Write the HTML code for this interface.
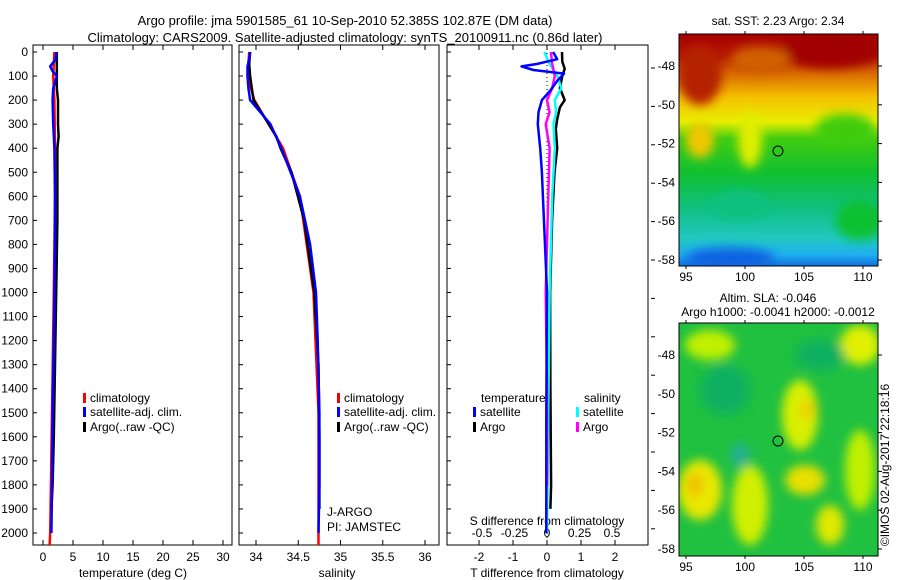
<!DOCTYPE html>
<html><head><meta charset="utf-8"><style>
body{margin:0;background:#fff;}
svg{display:block;font-family:"Liberation Sans",sans-serif;}
</style></head><body>
<svg id="c" width="900" height="580" viewBox="0 0 900 580">
<defs>
<linearGradient id="sstg" x1="0" y1="0" x2="0" y2="1">
<stop offset="0" stop-color="#a80000"/><stop offset="0.1" stop-color="#b31a00"/>
<stop offset="0.17" stop-color="#d96a00"/><stop offset="0.27" stop-color="#f5c000"/>
<stop offset="0.38" stop-color="#e8ee00"/><stop offset="0.45" stop-color="#40cc10"/>
<stop offset="0.6" stop-color="#10c030"/><stop offset="0.75" stop-color="#10c080"/>
<stop offset="0.88" stop-color="#20c8c0"/><stop offset="0.95" stop-color="#20b0f0"/>
<stop offset="1" stop-color="#1070e0"/></linearGradient>
<filter id="bl"><feGaussianBlur stdDeviation="5"/></filter>
<clipPath id="cp1"><rect x="679" y="34" width="199" height="232"/></clipPath>
<clipPath id="cp2"><rect x="679" y="323" width="199" height="233"/></clipPath>
</defs>
<text x="345" y="25" font-size="13" text-anchor="middle">Argo profile: jma 5901585_61 10-Sep-2010 52.385S 102.87E (DM data)</text>
<text x="345" y="42" font-size="13" text-anchor="middle">Climatology: CARS2009. Satellite-adjusted climatology: synTS_20100911.nc (0.86d later)</text>

<g>
<text x="778" y="25" font-size="12" text-anchor="middle">sat. SST: 2.23 Argo: 2.34</text>
<g clip-path="url(#cp1)">
<rect x="679" y="34" width="199" height="232" fill="url(#sstg)"/>
<g filter="url(#bl)">
<ellipse cx="830" cy="50" rx="50" ry="18" fill="#a00000"/>
<ellipse cx="700" cy="75" rx="22" ry="30" fill="#b52000"/>
<ellipse cx="760" cy="60" rx="30" ry="14" fill="#d06000"/>
<ellipse cx="750" cy="140" rx="12" ry="28" fill="#e0ee00"/>
<ellipse cx="845" cy="130" rx="30" ry="16" fill="#40cc10"/>
<ellipse cx="700" cy="140" rx="14" ry="18" fill="#f0c800"/>
<ellipse cx="740" cy="205" rx="30" ry="14" fill="#10c080"/>
<ellipse cx="860" cy="220" rx="25" ry="20" fill="#10c030"/>
<ellipse cx="730" cy="258" rx="45" ry="10" fill="#1060e0"/>
</g></g>
<rect x="679" y="34" width="199" height="232" fill="none" stroke="#000"/>
<circle cx="778" cy="151" r="5" fill="none" stroke="#000"/>
</g>

<g>
<text x="768" y="302" font-size="12" text-anchor="middle">Altim. SLA: -0.046</text>
<text x="778" y="316" font-size="12" text-anchor="middle">Argo h1000: -0.0041 h2000: -0.0012</text>
<g clip-path="url(#cp2)">
<rect x="679" y="323" width="199" height="233" fill="#20c040"/>
<g filter="url(#bl)">
<ellipse cx="710" cy="345" rx="25" ry="15" fill="#c0f000"/>
<ellipse cx="860" cy="345" rx="20" ry="20" fill="#e0f000"/>
<ellipse cx="800" cy="415" rx="18" ry="35" fill="#d8f000"/>
<ellipse cx="808" cy="410" rx="8" ry="10" fill="#f0d000"/>
<ellipse cx="700" cy="490" rx="22" ry="30" fill="#e8e800"/>
<ellipse cx="695" cy="485" rx="8" ry="12" fill="#f0c000"/>
<ellipse cx="750" cy="505" rx="18" ry="40" fill="#d0f000"/>
<ellipse cx="805" cy="480" rx="20" ry="15" fill="#e8e000"/>
<ellipse cx="830" cy="525" rx="14" ry="20" fill="#e0e800"/>
<ellipse cx="860" cy="470" rx="15" ry="40" fill="#c0f000"/>
<ellipse cx="725" cy="390" rx="25" ry="25" fill="#10b060"/>
<ellipse cx="820" cy="355" rx="25" ry="15" fill="#10b060"/>
<ellipse cx="740" cy="455" rx="10" ry="12" fill="#20b090"/>
</g></g>
<rect x="679" y="323" width="199" height="233" fill="none" stroke="#000"/>
<circle cx="778" cy="441" r="5" fill="none" stroke="#000"/>
<text transform="translate(889,465) rotate(-90)" font-size="12" text-anchor="middle">©IMOS 02-Aug-2017 22:18:16</text>
</g>
<g id="mapaxes"></g>
<g id="plots"></g>
</svg>
<script>
// ---- data ----
const depthTicks=[0,100,200,300,400,500,600,700,800,900,1000,1100,1200,1300,1400,1500,1600,1700,1800,1900,2000];
const tempTicks=[0,5,10,15,20,25,30];
const salTicks=[34,34.5,35,35.5,36];
const salTickLabels=["34","34.5","35","35.5","36"];
const tdiffTicks=[-2,-1,0,1,2];
const sdiffTicks=[-0.5,-0.25,0,0.25,0.5];
const sdiffTickLabels=["-0.5","-0.25","0","0.25","0.5"];
const latTicks=[-48,-50,-52,-54,-56,-58];
const lonTicks=[95,100,105,110];

const climDepth=[0,100,200,400,600,1000,1500,2000,2050];
const climTemp=[1.9,1.7,1.9,2.0,2.0,1.8,1.5,1.2,1.1];
const climSal=[33.92,33.9,33.98,34.32,34.52,34.68,34.74,34.74,34.74];

const satDepth=[0,30,60,80,100,150,200,300,400,600,800,1000,1200,1500,1800,2000];
const satTemp=[2.2,2.1,1.2,1.6,2.3,1.7,1.6,1.7,1.9,2.0,2.0,1.9,1.8,1.6,1.5,1.4];
const satSal=[33.93,33.92,33.9,33.9,33.9,33.91,33.93,34.17,34.3,34.52,34.64,34.71,34.73,34.75,34.75,34.74];

const argoDepth=[0,50,100,150,200,250,300,350,400,500,700,1000,1300,1600,1800,1900];
const argoTemp=[2.3,2.3,2.3,2.3,2.5,2.5,2.5,2.6,2.4,2.4,2.4,2.2,2.0,1.8,1.6,1.4];
const argoSal=[33.93,33.92,33.93,33.95,33.97,34.06,34.15,34.24,34.29,34.42,34.57,34.69,34.74,34.75,34.75,34.75];

const tdSatDepth=[0,30,50,60,75,90,120,160,200,250,300,400,500,600,800,1000,1500,2000];
const tdSat=[0.18,0.3,-0.3,-0.75,-0.4,0.5,0.3,0.1,-0.15,-0.25,-0.27,-0.2,-0.15,-0.12,-0.06,0,-0.02,-0.02];
const tdArgoDepth=[0,40,70,100,150,200,230,280,320,400,500,700,1000,1400,1800,1900];
const tdArgo=[0.44,0.45,0.52,0.45,0.38,0.52,0.38,0.3,0.26,0.3,0.22,0.15,0.09,0.1,0.12,0.1];
const sdSatDepth=[0,50,100,150,200,250,300,400,600,1000,1500,2000];
const sdSat=[-0.02,0.02,0.08,0.11,0.06,0.07,0.05,0.06,0.04,0.02,0.01,0.0];
const sdArgoDepth=[0,50,100,150,200,250,300,400,600,1000,1400,1800];
const sdArgo=[0.03,0.04,0.06,0.04,0.0,0.02,-0.01,0.02,0.01,-0.01,0,0];

// ---- axes ----
const Y=d=>52+d*0.2405;
const P1={x0:33,x1:232}, P2={x0:239,x1:439}, P3={x0:447,x1:648};
const TOP=45, BOT=545;
const xT=v=>43+6*v, xS=v=>256+84.5*(v-34), xTD=v=>547+34*v, xSD=v=>547+130*v;
const NS='http://www.w3.org/2000/svg';
const plots=document.getElementById('plots');
function mk(tag,attrs,parent){const e=document.createElementNS(NS,tag);for(const k in attrs)e.setAttribute(k,attrs[k]);(parent||plots).appendChild(e);return e;}
function txt(x,y,s,anchor,size,parent){const t=mk('text',{x:x,y:y,'font-size':size||12,'text-anchor':anchor||'middle'},parent);t.textContent=s;return t;}

[P1,P2,P3].forEach((p,i)=>{
  const r=mk('rect',{x:p.x0,y:TOP,width:p.x1-p.x0,height:BOT-TOP,fill:'none',stroke:'#000'});
  
  
  depthTicks.forEach(d=>{mk('line',{x1:p.x0,x2:p.x0+4,y1:Y(d),y2:Y(d),stroke:'#000'});});
});
depthTicks.forEach(d=>{const t=txt(28,Y(d)+4,String(d),'end',12);
  
  });
for(let k=0;k<13;k++){const y=68+k*38.4;if(y<BOT)mk('line',{x1:651,x2:655,y1:y,y2:y,stroke:'#000'});}

function xticks(vals,labels,fx,ylab,name,inner){
  vals.forEach((v,i)=>{const x=fx(v);
    if(inner){mk('line',{x1:x,x2:x,y1:TOP,y2:TOP+5,stroke:'#000'});mk('line',{x1:x,x2:x,y1:BOT,y2:BOT-5,stroke:'#000'});}
    const t=txt(x,ylab,labels[i],'middle',12);
    
    });
}
xticks(tempTicks,tempTicks.map(String),xT,561,'temperature-tick-label',true);
xticks(salTicks,salTickLabels,xS,561,'salinity-tick-label',true);
xticks(tdiffTicks,tdiffTicks.map(String),xTD,561,'t-diff-tick-label',true);
xticks(sdiffTicks,sdiffTickLabels,xSD,537,'s-diff-tick-label',false);
let t;
t=txt(133,577,'temperature (deg C)');
t=txt(337,577,'salinity');
t=txt(547,577,'T difference from climatology');
t=txt(547,525,'S difference from climatology');
t=txt(327,516,'J-ARGO','start');
t=txt(327,531,'PI: JAMSTEC','start');
// zero line
const z=mk('line',{x1:547,x2:547,y1:TOP,y2:BOT,stroke:'#000','stroke-dasharray':'1,3'});



function line(ds,vs,fx,color,w,name){
  const pts=ds.map((d,i)=>fx(vs[i]).toFixed(1)+','+Y(d).toFixed(1)).join(' ');
  const e=mk('polyline',{points:pts,fill:'none',stroke:color,'stroke-width':w,'stroke-linejoin':'round'});
  
  
}
line(climDepth,climTemp,xT,'#ff0000',2.5,'temp-climatology-line');
line(argoDepth,argoTemp,xT,'#000',2.5,'temp-argo-line');
line(satDepth,satTemp,xT,'#0000ff',2.5,'temp-satellite-line');
line(climDepth,climSal,xS,'#ff0000',2.5,'sal-climatology-line');
line(argoDepth,argoSal,xS,'#000',2.5,'sal-argo-line');
line(satDepth,satSal,xS,'#0000ff',2.5,'sal-satellite-line');
line(tdArgoDepth,tdArgo,xTD,'#000',2.5,'tdiff-argo-line');
line(sdSatDepth,sdSat,xSD,'#00ffff',2.5,'sdiff-satellite-line');
line(sdArgoDepth,sdArgo,xSD,'#ff00ff',2.5,'sdiff-argo-line');
line(tdSatDepth,tdSat,xTD,'#0000ff',2.5,'tdiff-satellite-line');

function legend(x,y,color,label,name){
  mk('rect',{x:x,y:y-9,width:3,height:10,fill:color});
  const t=txt(x+7,y,label,'start',12);
  
  
}
[[83,'legend-p1'],[337,'legend-p2']].forEach(([x,n])=>{
  legend(x,402,'#ff0000','climatology',n+'-climatology');
  legend(x,416,'#0000ff','satellite-adj. clim.',n+'-satellite');
  legend(x,431,'#000','Argo(..raw -QC)',n+'-argo');
});
t=txt(481,402,'temperature','start');
t=txt(584,402,'salinity','start');
legend(473,416,'#0000ff','satellite','legend-t-satellite');
legend(473,431,'#000','Argo','legend-t-argo');
legend(576,416,'#00ffff','satellite','legend-s-satellite');
legend(576,431,'#ff00ff','Argo','legend-s-argo');

// map axes
const ma=document.getElementById('mapaxes');
const lonX=v=>686+(v-95)*11.8, latY=v=>66+(-48-v)*19.4;
[[34,266,0],[323,556,289]].forEach(([top,bot,off],m)=>{
  latTicks.forEach(v=>{const y=latY(v)+off;
    mk('line',{x1:878,x2:882,y1:y,y2:y,stroke:'#000'},ma);
    const t=txt(675,y+4,String(v),'end',12,ma);
    
    });
  lonTicks.forEach(v=>{const x=lonX(v);
    mk('line',{x1:x,x2:x,y1:top-3,y2:top,stroke:'#000'},ma);
    mk('line',{x1:x,x2:x,y1:bot,y2:bot+3,stroke:'#000'},ma);
    const t=txt(x,bot+15,String(v),'middle',12,ma);
    
    });
});
</script>
</body></html>
